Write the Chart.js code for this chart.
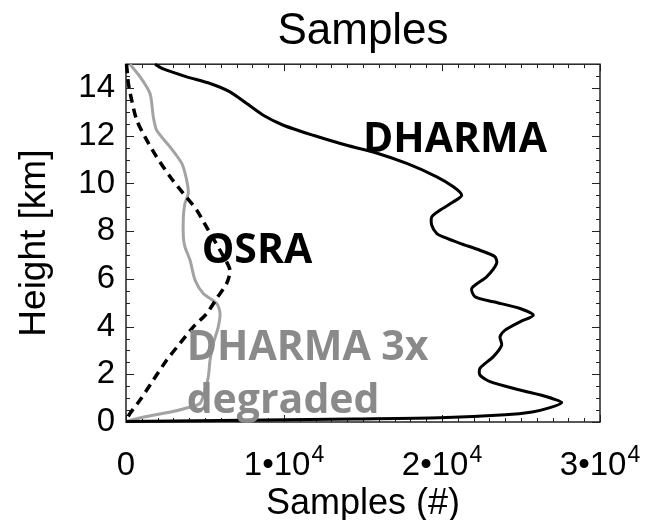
<!DOCTYPE html>
<html>
<head>
<meta charset="utf-8">
<script src="https://cdn.jsdelivr.net/npm/chart.js@4/dist/chart.umd.min.js"></script>
<style>
html,body{margin:0;padding:0;background:#fff}
</style>
</head>
<body>
<canvas id="c" width="652" height="520"></canvas>
<script>
// profiles: x = samples, y = height (km)
const dharmaX = [1840, 2360, 3840, 5320, 6580, 7640, 8690, 9960, 11850, 13970, 15650, 17770, 19670, 20720, 21250, 20720, 19870, 19350, 19350, 19670, 20080, 21140, 22400, 23350, 23460, 22830, 21880, 22090, 23250, 24940, 25780, 24940, 23990, 23670, 23780, 23250, 22400, 22400, 23040, 24940, 26630, 27580, 26840, 25700, 24000, 19870, 14390, 5950, 0]
const dharmaY = [15.0, 14.8, 14.47, 14.19, 13.84, 13.35, 12.86, 12.44, 12.02, 11.6, 11.32, 10.84, 10.28, 9.86, 9.51, 9.23, 8.88, 8.6, 8.25, 7.9, 7.76, 7.49, 7.2, 6.93, 6.65, 6.09, 5.6, 5.25, 5.04, 4.76, 4.48, 4.2, 3.85, 3.57, 3.23, 2.74, 2.25, 1.97, 1.69, 1.34, 1.06, 0.81, 0.6, 0.42, 0.3, 0.18, 0.13, 0.06, 0.02]

const osraX = [30, 90, 150, 360, 680, 1200, 1940, 2790, 3630, 4480, 5210, 5950, 6580, 6370, 5740, 5110, 4260, 3420, 2580, 1730, 890, 250, 0]
const osraY = [15.0, 14.6, 14.19, 13.49, 12.65, 11.95, 11.11, 10.28, 9.58, 8.88, 8.04, 7.2, 6.37, 5.81, 5.18, 4.55, 3.99, 3.3, 2.6, 1.76, 0.92, 0.36, 0.08]

const degradedX = [250, 890, 1520, 1730, 1940, 2790, 3530, 3840, 3940, 3730, 3630, 3630, 3730, 4050, 4370, 4890, 5740, 5950, 5840, 5530, 5320, 5210, 5000, 4680, 3900, 2900, 1200, 300, 0]
const degradedY = [15.0, 14.47, 13.77, 12.79, 12.23, 11.53, 10.84, 10.14, 9.58, 9.16, 8.6, 7.76, 7.34, 6.79, 5.95, 5.39, 4.97, 4.55, 3.99, 3.3, 2.6, 1.9, 1.34, 0.78, 0.6, 0.43, 0.22, 0.08, 0.0]

// x tick labels: mantissa part and superscript exponent
const xTickBase = ['0', '1\u202210', '2\u202210', '3\u202210']
const xTickExp = ['', '4', '4', '4']

// text labels placed in data space (left edge, baseline)
const notes = [
  {text: 'DHARMA', x: 15000, y: 11.32, color: '#000'},
  {text: 'OSRA', x: 4790, y: 6.65, color: '#000'},
  {text: 'DHARMA 3x', x: 3840, y: 2.6, color: '#8a8a8a'},
  {text: 'degraded', x: 3840, y: 0.36, color: '#8a8a8a'}
]

const helv = 'Liberation Sans, Arial, Helvetica, sans-serif'

function pairs(xs, ys) {
  return xs.map((x, i) => ({x: x, y: ys[i]}))
}

const frameTicks = {
  id: 'frameTicks',
  beforeDatasetsDraw(chart) {
    const {ctx, chartArea: a, scales: {x, y}} = chart
    ctx.save()
    ctx.strokeStyle = '#222'
    ctx.lineWidth = 1
    ctx.beginPath()
    for (let v = 0; v <= 30000; v += 1000) {
      const px = Math.round(x.getPixelForValue(v)) + 0.5
      const len = v % 10000 === 0 ? 7 : 4
      ctx.moveTo(px, a.bottom); ctx.lineTo(px, a.bottom - len)
      ctx.moveTo(px, a.top); ctx.lineTo(px, a.top + len)
    }
    for (let v = 0; v <= 15; v += 0.5) {
      const py = Math.round(y.getPixelForValue(v)) + 0.5
      const len = v % 2 === 0 ? 8 : 4
      ctx.moveTo(a.left, py); ctx.lineTo(a.left + len, py)
      ctx.moveTo(a.right, py); ctx.lineTo(a.right - len, py)
    }
    ctx.stroke()
    ctx.lineWidth = 1.5
    ctx.strokeRect(a.left, a.top, a.width, a.height)
    ctx.restore()
  }
}

const textNotes = {
  id: 'textNotes',
  afterDatasetsDraw(chart) {
    const {ctx, scales: {x, y}} = chart
    ctx.save()
    ctx.font = 'bold 41px "Open Sans", sans-serif'
    ctx.textAlign = 'left'
    ctx.textBaseline = 'alphabetic'
    notes.forEach(n => {
      ctx.fillStyle = n.color
      ctx.fillText(n.text, x.getPixelForValue(n.x), y.getPixelForValue(n.y))
    })
    ctx.restore()
  },
  afterDraw(chart) {
    // x tick labels with a real superscript
    const {ctx, chartArea: a, scales: {x}} = chart
    const baseFont = '33px ' + helv
    const expFont = '23px ' + helv
    const baseline = a.bottom + 53
    ctx.save()
    ctx.fillStyle = '#000'
    ctx.textBaseline = 'alphabetic'
    ctx.textAlign = 'left'
    x.ticks.forEach((t, i) => {
      const px = x.getPixelForValue(t.value)
      ctx.font = baseFont
      const wb = ctx.measureText(xTickBase[i]).width
      ctx.font = expFont
      const we = xTickExp[i] ? ctx.measureText(xTickExp[i]).width + 1 : 0
      const start = px - (wb + we) / 2
      ctx.font = baseFont
      ctx.fillText(xTickBase[i], start, baseline)
      if (xTickExp[i]) {
        ctx.font = expFont
        ctx.fillText(xTickExp[i], start + wb + 1, baseline - 13)
      }
    })
    ctx.restore()
  }
}

const line = {showLine: true, pointRadius: 0, fill: false, tension: 0.25, clip: 4}

new Chart(document.getElementById('c'), {
  type: 'scatter',
  data: {
    datasets: [
      Object.assign({label: 'DHARMA', data: pairs(dharmaX, dharmaY), borderColor: '#000', borderWidth: 3}, line),
      Object.assign({label: 'OSRA', data: pairs(osraX, osraY), borderColor: '#000', borderWidth: 3.5, borderDash: [9, 6]}, line),
      Object.assign({label: 'DHARMA 3x degraded', data: pairs(degradedX, degradedY), borderColor: '#a3a3a3', borderWidth: 3}, line)
    ]
  },
  options: {
    responsive: false,
    animation: false,
    layout: {padding: {left: 0, right: 52, top: 0, bottom: 0}},
    plugins: {
      legend: {display: false},
      tooltip: {enabled: false},
      title: {
        display: true, fullSize: false, text: 'Samples', color: '#000',
        font: {family: helv, size: 44, weight: 'normal', lineHeight: 1.05},
        padding: {top: 9, bottom: 9}
      }
    },
    scales: {
      x: {
        type: 'linear', min: 0, max: 30000,
        afterFit(s) { s.height = 98 },
        grid: {display: false, drawTicks: false},
        border: {display: false},
        ticks: {stepSize: 10000, display: false},
        title: {
          display: true, text: 'Samples (#)', color: '#000',
          font: {family: helv, size: 36, lineHeight: 0.9},
          padding: {top: 0, bottom: 0}
        }
      },
      y: {
        type: 'linear', min: 0, max: 15,
        afterFit(s) { s.width = 126 },
        grid: {display: false, drawTicks: false},
        border: {display: false},
        ticks: {
          stepSize: 2, includeBounds: false, padding: 11, color: '#000',
          font: {family: helv, size: 33}
        },
        title: {
          display: true, text: 'Height [km]', color: '#000',
          font: {family: helv, size: 37, lineHeight: 1.0},
          padding: {top: 16, bottom: 0}
        }
      }
    }
  },
  plugins: [frameTicks, textNotes]
})
</script>
</body>
</html>
